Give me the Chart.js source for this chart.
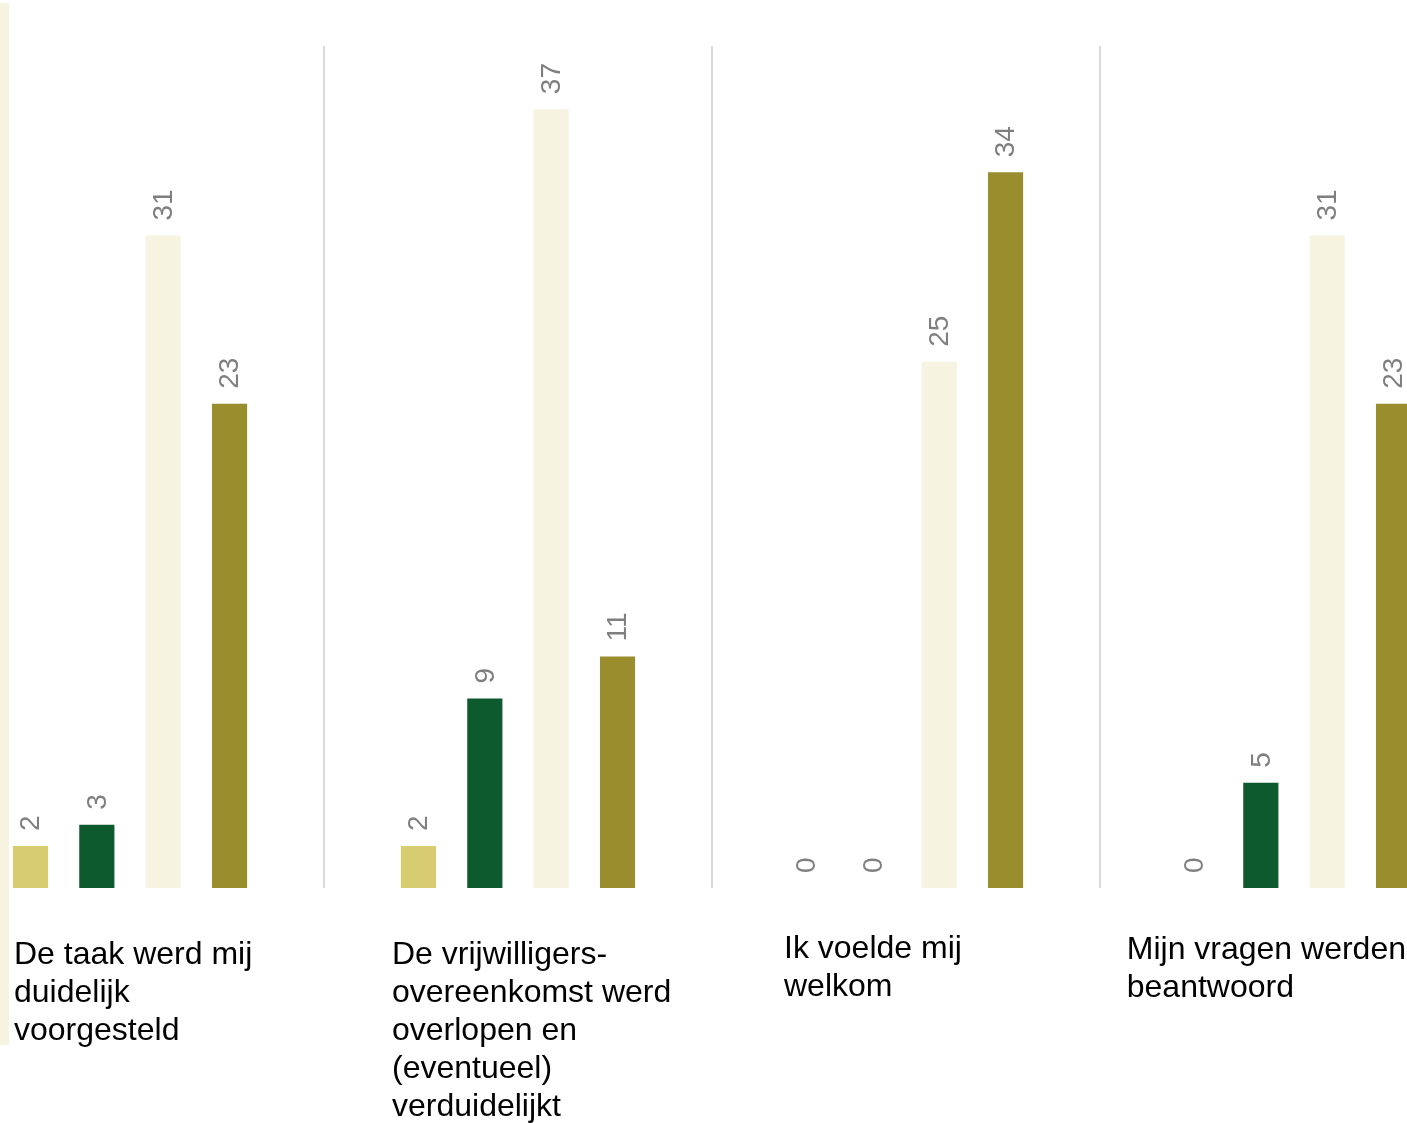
<!DOCTYPE html>
<html lang="nl">
<head>
<meta charset="utf-8">
<title>Vrijwilligers - onthaal</title>
<script src="https://cdn.jsdelivr.net/npm/chart.js@4/dist/chart.umd.min.js"></script>
<style>
  html, body {
    margin: 0;
    padding: 0;
    background: #ffffff;
    overflow: hidden;
    width: 1407px;
    height: 1123px;
  }
  /* cream strip on the left edge of the picture */
  .edge {
    position: absolute;
    left: 0;
    top: 3px;
    width: 9px;
    height: 1042px;
    background: #f6f3e1;
  }
  /* the chart is wider than the window: first and last category are cut off */
  .chart-box {
    position: absolute;
    left: -64px;
    top: 0;
    width: 1552px;
    height: 1123px;
  }
</style>
</head>
<body>
<div class="edge"></div>
<div class="chart-box"><canvas id="onthaalChart"></canvas></div>

<script>
// Categories (each label is split in lines as in the picture)
const categories = [
  ["De taak werd mij", "duidelijk", "voorgesteld"],
  ["De vrijwilligers-", "overeenkomst werd", "overlopen en", "(eventueel)", "verduidelijkt"],
  ["Ik voelde mij", "welkom"],
  ["Mijn vragen werden", "beantwoord"],
];

// Series names and values (number of answers)
const seriesNames = ["Helemaal niet akkoord", "Niet akkoord", "Akkoord", "Helemaal akkoord"];
const helemaalNietAkkoord = [2, 2, 0, 0];
const nietAkkoord = [3, 9, 0, 5];
const akkoord = [31, 37, 25, 31];
const helemaalAkkoord = [23, 11, 34, 23];

const seriesColors = ["#d7cc6f", "#0e5a2f", "#f6f3e1", "#998d2e"];

// small per-category nudges for the label blocks (style only)
const labelNudgeX = [6, -4, 0, 0];
const labelNudgeY = [2, 2, -4, -3];

document.addEventListener("DOMContentLoaded", () => {
  const FONT = "'Liberation Sans', Arial, sans-serif";

  // Rotated value labels above every bar
  const valueLabels = {
    id: "valueLabels",
    afterDatasetsDraw(chart) {
      const ctx = chart.ctx;
      ctx.save();
      ctx.font = `28px ${FONT}`;
      ctx.fillStyle = "#7f7f7f";
      ctx.textAlign = "left";
      ctx.textBaseline = "middle";
      chart.data.datasets.forEach((ds, di) => {
        const meta = chart.getDatasetMeta(di);
        meta.data.forEach((bar, i) => {
          ctx.save();
          ctx.translate(bar.x + 1, bar.y - 15);
          ctx.rotate(-Math.PI / 2);
          ctx.fillText(String(ds.data[i]), 0, 0);
          ctx.restore();
        });
      });
      ctx.restore();
    },
  };

  // Category labels under the chart, left aligned lines
  const categoryLabels = {
    id: "categoryLabels",
    afterDraw(chart) {
      const ctx = chart.ctx;
      const xScale = chart.scales.x;
      const catWidth = xScale.width / categories.length;
      const visibleRight = 1406 + 64; // right edge of the window in canvas coords
      ctx.save();
      ctx.font = `32px ${FONT}`;
      ctx.fillStyle = "#000000";
      ctx.textAlign = "left";
      ctx.textBaseline = "alphabetic";
      categories.forEach((lines, i) => {
        const blockWidth = Math.max(...lines.map((l) => ctx.measureText(l).width));
        let left = xScale.getPixelForValue(i) - catWidth / 2 + 72 + labelNudgeX[i];
        if (left + blockWidth > visibleRight) left = visibleRight - blockWidth;
        lines.forEach((line, j) => {
          ctx.fillText(line, left, 962 + labelNudgeY[i] + j * 38);
        });
      });
      ctx.restore();
    },
  };

  const seriesData = [helemaalNietAkkoord, nietAkkoord, akkoord, helemaalAkkoord];

  const ctx = document.getElementById("onthaalChart").getContext("2d");
  new Chart(ctx, {
    type: "bar",
    data: {
      labels: categories,
      datasets: seriesNames.map((name, i) => ({
        label: name,
        data: seriesData[i],
        backgroundColor: seriesColors[i],
        borderWidth: 0,
        categoryPercentage: 0.684,
        barPercentage: 0.53,
      })),
    },
    options: {
      responsive: true,
      maintainAspectRatio: false,
      animation: false,
      layout: {
        padding: { top: 46, bottom: 235, left: 0, right: 0 },
      },
      plugins: {
        legend: { display: false },
        tooltip: { enabled: false },
      },
      scales: {
        x: {
          ticks: { display: false },
          border: { display: false },
          grid: {
            offset: true,
            drawTicks: false,
            color: "#d9d9d9",
            lineWidth: 2,
          },
        },
        y: {
          display: false,
          min: 0,
          max: 40,
        },
      },
    },
    plugins: [valueLabels, categoryLabels],
  });
});
</script>
</body>
</html>
